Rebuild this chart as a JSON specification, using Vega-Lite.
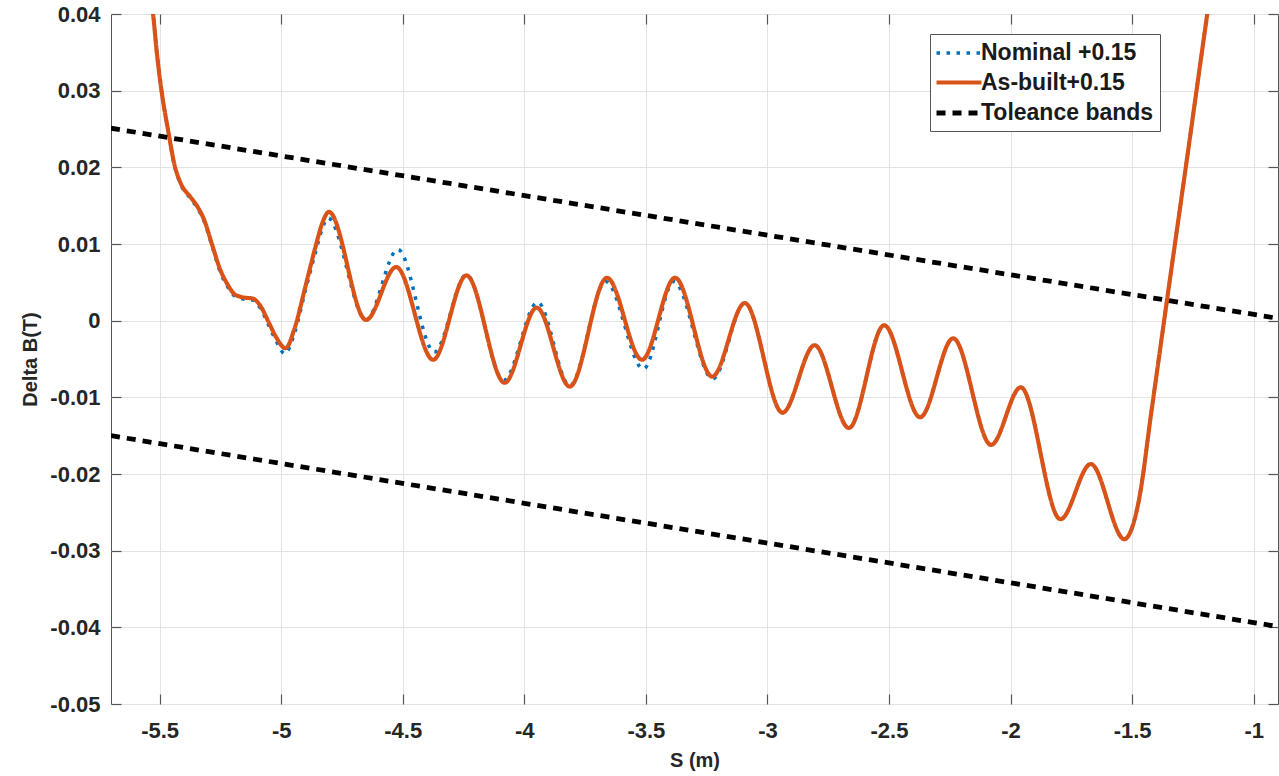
{
  "$schema": "https://vega.github.io/schema/vega-lite/v6.json",
  "width": 1167,
  "height": 690,
  "autosize": {"type": "none"},
  "padding": {"left": 111, "top": 14, "right": 1, "bottom": 72},
  "background": "white",
  "config": {
    "view": {"stroke": "#555555", "strokeWidth": 1},
    "font": "Liberation Sans",
    "axis": {
      "labelFont": "Liberation Sans",
      "labelFontWeight": "bold",
      "labelFontSize": 22,
      "labelColor": "#262626",
      "titleFont": "Liberation Sans",
      "titleFontWeight": "bold",
      "titleFontSize": 20,
      "titleColor": "#262626",
      "tickColor": "#555555",
      "tickWidth": 1.2,
      "tickSize": -10,
      "domain": false,
      "gridColor": "#e3e3e3",
      "gridWidth": 1
    },
    "legend": {
      "labelFont": "Liberation Sans",
      "labelFontWeight": "bold",
      "labelFontSize": 23,
      "labelColor": "#1a1a1a"
    }
  },
  "data": {
    "values": [
      {"s": -5.545, "b": 0.0445, "series": "Nominal +0.15", "band": "n"},
      {"s": -5.527, "b": 0.0400, "series": "Nominal +0.15", "band": "n"},
      {"s": -5.51, "b": 0.0345, "series": "Nominal +0.15", "band": "n"},
      {"s": -5.49, "b": 0.0295, "series": "Nominal +0.15", "band": "n"},
      {"s": -5.465, "b": 0.0248, "series": "Nominal +0.15", "band": "n"},
      {"s": -5.44, "b": 0.0204, "series": "Nominal +0.15", "band": "n"},
      {"s": -5.41, "b": 0.0176, "series": "Nominal +0.15", "band": "n"},
      {"s": -5.375, "b": 0.0160, "series": "Nominal +0.15", "band": "n"},
      {"s": -5.345, "b": 0.0147, "series": "Nominal +0.15", "band": "n"},
      {"s": -5.315, "b": 0.0128, "series": "Nominal +0.15", "band": "n"},
      {"s": -5.285, "b": 0.0098, "series": "Nominal +0.15", "band": "n"},
      {"s": -5.25, "b": 0.0063, "series": "Nominal +0.15", "band": "n"},
      {"s": -5.22, "b": 0.0044, "series": "Nominal +0.15", "band": "n"},
      {"s": -5.19, "b": 0.0032, "series": "Nominal +0.15", "band": "n"},
      {"s": -5.15, "b": 0.0028, "series": "Nominal +0.15", "band": "n"},
      {"s": -5.118, "b": 0.0027, "series": "Nominal +0.15", "band": "n"},
      {"s": -5.085, "b": 0.0016, "series": "Nominal +0.15", "band": "n"},
      {"s": -5.05, "b": -0.0007, "series": "Nominal +0.15", "band": "n"},
      {"s": -5.02, "b": -0.0027, "series": "Nominal +0.15", "band": "n"},
      {"s": -4.985, "b": -0.0043, "series": "Nominal +0.15", "band": "n"},
      {"s": -4.945, "b": -0.0016, "series": "Nominal +0.15", "band": "n"},
      {"s": -4.90, "b": 0.0040, "series": "Nominal +0.15", "band": "n"},
      {"s": -4.86, "b": 0.0088, "series": "Nominal +0.15", "band": "n"},
      {"s": -4.83, "b": 0.0121, "series": "Nominal +0.15", "band": "n"},
      {"s": -4.808, "b": 0.0134, "series": "Nominal +0.15", "band": "n"},
      {"s": -4.651, "b": 0.0001, "series": "Nominal +0.15", "band": "n"},
      {"s": -4.52, "b": 0.0093, "series": "Nominal +0.15", "band": "n"},
      {"s": -4.37, "b": -0.0041, "series": "Nominal +0.15", "band": "n"},
      {"s": -4.238, "b": 0.0060, "series": "Nominal +0.15", "band": "n"},
      {"s": -4.085, "b": -0.0078, "series": "Nominal +0.15", "band": "n"},
      {"s": -3.945, "b": 0.0024, "series": "Nominal +0.15", "band": "n"},
      {"s": -3.813, "b": -0.0085, "series": "Nominal +0.15", "band": "n"},
      {"s": -3.665, "b": 0.0051, "series": "Nominal +0.15", "band": "n"},
      {"s": -3.51, "b": -0.0063, "series": "Nominal +0.15", "band": "n"},
      {"s": -3.385, "b": 0.0051, "series": "Nominal +0.15", "band": "n"},
      {"s": -3.225, "b": -0.0076, "series": "Nominal +0.15", "band": "n"},
      {"s": -3.093, "b": 0.0023, "series": "Nominal +0.15", "band": "n"},
      {"s": -2.938, "b": -0.0120, "series": "Nominal +0.15", "band": "n"},
      {"s": -2.806, "b": -0.0032, "series": "Nominal +0.15", "band": "n"},
      {"s": -2.665, "b": -0.0140, "series": "Nominal +0.15", "band": "n"},
      {"s": -2.52, "b": -0.0006, "series": "Nominal +0.15", "band": "n"},
      {"s": -2.372, "b": -0.0126, "series": "Nominal +0.15", "band": "n"},
      {"s": -2.236, "b": -0.0023, "series": "Nominal +0.15", "band": "n"},
      {"s": -2.08, "b": -0.0162, "series": "Nominal +0.15", "band": "n"},
      {"s": -1.958, "b": -0.0087, "series": "Nominal +0.15", "band": "n"},
      {"s": -1.795, "b": -0.0259, "series": "Nominal +0.15", "band": "n"},
      {"s": -1.670, "b": -0.0187, "series": "Nominal +0.15", "band": "n"},
      {"s": -1.532, "b": -0.0285, "series": "Nominal +0.15", "band": "n"},
      {"s": -1.505, "b": -0.0274, "series": "Nominal +0.15", "band": "n"},
      {"s": -1.472, "b": -0.0234, "series": "Nominal +0.15", "band": "n"},
      {"s": -1.42, "b": -0.0117, "series": "Nominal +0.15", "band": "n"},
      {"s": -1.356, "b": 0.0028, "series": "Nominal +0.15", "band": "n"},
      {"s": -1.274, "b": 0.0212, "series": "Nominal +0.15", "band": "n"},
      {"s": -1.191, "b": 0.0400, "series": "Nominal +0.15", "band": "n"},
      {"s": -1.17, "b": 0.0447, "series": "Nominal +0.15", "band": "n"},

      {"s": -5.545, "b": 0.0445, "series": "As-built+0.15", "band": "a"},
      {"s": -5.527, "b": 0.0400, "series": "As-built+0.15", "band": "a"},
      {"s": -5.51, "b": 0.0345, "series": "As-built+0.15", "band": "a"},
      {"s": -5.49, "b": 0.0295, "series": "As-built+0.15", "band": "a"},
      {"s": -5.465, "b": 0.0248, "series": "As-built+0.15", "band": "a"},
      {"s": -5.44, "b": 0.0205, "series": "As-built+0.15", "band": "a"},
      {"s": -5.41, "b": 0.0177, "series": "As-built+0.15", "band": "a"},
      {"s": -5.375, "b": 0.0162, "series": "As-built+0.15", "band": "a"},
      {"s": -5.345, "b": 0.0149, "series": "As-built+0.15", "band": "a"},
      {"s": -5.315, "b": 0.0130, "series": "As-built+0.15", "band": "a"},
      {"s": -5.285, "b": 0.0100, "series": "As-built+0.15", "band": "a"},
      {"s": -5.25, "b": 0.0066, "series": "As-built+0.15", "band": "a"},
      {"s": -5.22, "b": 0.0047, "series": "As-built+0.15", "band": "a"},
      {"s": -5.19, "b": 0.0034, "series": "As-built+0.15", "band": "a"},
      {"s": -5.15, "b": 0.0030, "series": "As-built+0.15", "band": "a"},
      {"s": -5.118, "b": 0.0029, "series": "As-built+0.15", "band": "a"},
      {"s": -5.085, "b": 0.0019, "series": "As-built+0.15", "band": "a"},
      {"s": -5.05, "b": -0.0003, "series": "As-built+0.15", "band": "a"},
      {"s": -5.02, "b": -0.0022, "series": "As-built+0.15", "band": "a"},
      {"s": -4.982, "b": -0.0036, "series": "As-built+0.15", "band": "a"},
      {"s": -4.945, "b": -0.0010, "series": "As-built+0.15", "band": "a"},
      {"s": -4.90, "b": 0.0045, "series": "As-built+0.15", "band": "a"},
      {"s": -4.86, "b": 0.0095, "series": "As-built+0.15", "band": "a"},
      {"s": -4.83, "b": 0.0128, "series": "As-built+0.15", "band": "a"},
      {"s": -4.804, "b": 0.0142, "series": "As-built+0.15", "band": "a"},
      {"s": -4.651, "b": 0.0001, "series": "As-built+0.15", "band": "a"},
      {"s": -4.527, "b": 0.0070, "series": "As-built+0.15", "band": "a"},
      {"s": -4.375, "b": -0.0051, "series": "As-built+0.15", "band": "a"},
      {"s": -4.238, "b": 0.0059, "series": "As-built+0.15", "band": "a"},
      {"s": -4.081, "b": -0.0081, "series": "As-built+0.15", "band": "a"},
      {"s": -3.949, "b": 0.0017, "series": "As-built+0.15", "band": "a"},
      {"s": -3.813, "b": -0.0086, "series": "As-built+0.15", "band": "a"},
      {"s": -3.660, "b": 0.0056, "series": "As-built+0.15", "band": "a"},
      {"s": -3.516, "b": -0.0051, "series": "As-built+0.15", "band": "a"},
      {"s": -3.380, "b": 0.0056, "series": "As-built+0.15", "band": "a"},
      {"s": -3.227, "b": -0.0073, "series": "As-built+0.15", "band": "a"},
      {"s": -3.093, "b": 0.0023, "series": "As-built+0.15", "band": "a"},
      {"s": -2.938, "b": -0.0120, "series": "As-built+0.15", "band": "a"},
      {"s": -2.806, "b": -0.0032, "series": "As-built+0.15", "band": "a"},
      {"s": -2.665, "b": -0.0140, "series": "As-built+0.15", "band": "a"},
      {"s": -2.52, "b": -0.0006, "series": "As-built+0.15", "band": "a"},
      {"s": -2.372, "b": -0.0126, "series": "As-built+0.15", "band": "a"},
      {"s": -2.236, "b": -0.0023, "series": "As-built+0.15", "band": "a"},
      {"s": -2.08, "b": -0.0162, "series": "As-built+0.15", "band": "a"},
      {"s": -1.958, "b": -0.0087, "series": "As-built+0.15", "band": "a"},
      {"s": -1.795, "b": -0.0259, "series": "As-built+0.15", "band": "a"},
      {"s": -1.670, "b": -0.0187, "series": "As-built+0.15", "band": "a"},
      {"s": -1.532, "b": -0.0285, "series": "As-built+0.15", "band": "a"},
      {"s": -1.505, "b": -0.0274, "series": "As-built+0.15", "band": "a"},
      {"s": -1.472, "b": -0.0234, "series": "As-built+0.15", "band": "a"},
      {"s": -1.42, "b": -0.0117, "series": "As-built+0.15", "band": "a"},
      {"s": -1.356, "b": 0.0028, "series": "As-built+0.15", "band": "a"},
      {"s": -1.274, "b": 0.0212, "series": "As-built+0.15", "band": "a"},
      {"s": -1.191, "b": 0.0400, "series": "As-built+0.15", "band": "a"},
      {"s": -1.17, "b": 0.0447, "series": "As-built+0.15", "band": "a"},

      {"s": -5.7, "b": 0.0251, "series": "Toleance bands", "band": "upper"},
      {"s": -0.9, "b": 0.0003, "series": "Toleance bands", "band": "upper"},
      {"s": -5.7, "b": -0.0150, "series": "Toleance bands", "band": "lower"},
      {"s": -0.9, "b": -0.0399, "series": "Toleance bands", "band": "lower"}
    ]
  },
  "encoding": {
    "x": {"field": "s", "type": "quantitative", "scale": {"domain": [-5.7, -0.9], "nice": false, "zero": false}},
    "y": {"field": "b", "type": "quantitative", "scale": {"domain": [-0.05, 0.04], "nice": false, "zero": false}},
    "detail": {"field": "band"},
    "color": {
      "field": "series", "type": "nominal",
      "scale": {"domain": ["Nominal +0.15", "As-built+0.15", "Toleance bands"], "range": ["#0072BD", "#D95319", "#000000"]},
      "legend": {"title": null, "orient": "none", "legendX": 819, "legendY": 20, "symbolType": "M-2,0L2,0", "symbolSize": 506, "symbolOffset": 9, "labelOffset": 8, "strokeColor": "#555555", "fillColor": "white", "padding": 6, "rowPadding": 4, "labelLimit": 400}
    },
    "strokeDash": {
      "field": "series", "type": "nominal",
      "scale": {"domain": ["Nominal +0.15", "As-built+0.15", "Toleance bands"], "range": [[3.5, 6.5], [1, 0], [9, 7]]},
      "legend": {"title": null, "orient": "none", "legendX": 819, "legendY": 20, "symbolType": "M-2,0L2,0", "symbolSize": 506, "symbolOffset": 9, "labelOffset": 8, "strokeColor": "#555555", "fillColor": "white", "padding": 6, "rowPadding": 4, "labelLimit": 400}
    },
    "strokeWidth": {
      "field": "series", "type": "nominal",
      "scale": {"domain": ["Nominal +0.15", "As-built+0.15", "Toleance bands"], "range": [3.5, 4.8, 2.2]},
      "legend": {"title": null, "orient": "none", "legendX": 819, "legendY": 20, "symbolType": "M-2,0L2,0", "symbolSize": 506, "symbolOffset": 9, "labelOffset": 8, "strokeColor": "#555555", "fillColor": "white", "padding": 6, "rowPadding": 4, "labelLimit": 400}
    }
  },
  "layer": [
    {
      "transform": [{"filter": "datum.series === 'Nominal +0.15'"}],
      "mark": {"type": "line", "interpolate": "monotone", "clip": true},
      "encoding": {
        "x": {"field": "s", "type": "quantitative", "axis": {"orient": "bottom", "values": [-5.5, -5, -4.5, -4, -3.5, -3, -2.5, -2, -1.5, -1], "labelExpr": "'' + round(datum.value * 10) / 10", "labelPadding": 26, "title": "S (m)", "titlePadding": 9, "grid": true}},
        "y": {"field": "b", "type": "quantitative", "axis": {"orient": "left", "values": [-0.05, -0.04, -0.03, -0.02, -0.01, 0, 0.01, 0.02, 0.03, 0.04], "labelExpr": "'' + round(datum.value * 100) / 100", "labelPadding": 21, "title": "Delta B(T)", "titlePadding": 9, "grid": true}}
      }
    },
    {
      "transform": [{"filter": "datum.series === 'As-built+0.15'"}],
      "mark": {"type": "line", "interpolate": "monotone", "clip": true},
      "encoding": {
        "x": {"field": "s", "type": "quantitative", "axis": null},
        "y": {"field": "b", "type": "quantitative", "axis": null}
      }
    },
    {
      "transform": [{"filter": "datum.series === 'Toleance bands'"}],
      "mark": {"type": "line", "clip": true},
      "encoding": {
        "x": {"field": "s", "type": "quantitative", "axis": {"orient": "top", "values": [-5.5, -5, -4.5, -4, -3.5, -3, -2.5, -2, -1.5, -1], "labels": false, "title": null, "grid": false}},
        "y": {"field": "b", "type": "quantitative", "axis": {"orient": "right", "values": [-0.05, -0.04, -0.03, -0.02, -0.01, 0, 0.01, 0.02, 0.03, 0.04], "labels": false, "title": null, "grid": false}}
      }
    }
  ],
  "resolve": {"axis": {"x": "independent", "y": "independent"}}
}
